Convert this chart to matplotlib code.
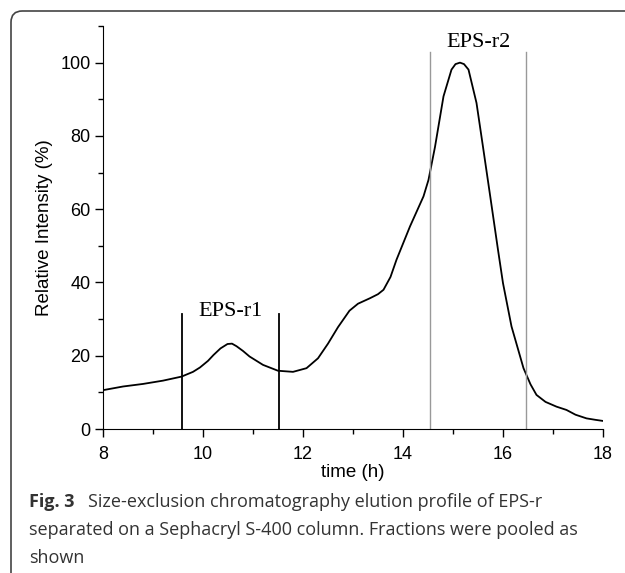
import matplotlib.pyplot as plt
from matplotlib.patches import FancyBboxPatch
from matplotlib.ticker import MultipleLocator

# elution profile
time_h = [8.0, 8.4, 8.8, 9.2, 9.57, 9.8, 9.94, 10.1, 10.21, 10.35, 10.49, 10.58, 10.67, 10.8,
          10.93, 11.2, 11.5, 11.8, 12.07, 12.3, 12.5, 12.7, 12.93, 13.1, 13.34, 13.5, 13.61,
          13.75, 13.87, 14.14, 14.41, 14.51, 14.64, 14.81, 14.97, 15.05, 15.14, 15.22, 15.31,
          15.47, 15.6, 15.75, 15.9, 16.0, 16.17, 16.41, 16.55, 16.67, 16.85, 17.07, 17.27,
          17.45, 17.67, 17.85, 18.0]
intensity = [10.6, 11.6, 12.3, 13.2, 14.3, 15.6, 16.8, 18.6, 20.2, 22.0, 23.2, 23.3, 22.6, 21.3,
             19.8, 17.5, 15.9, 15.6, 16.6, 19.3, 23.3, 27.8, 32.3, 34.2, 35.7, 36.8, 38.0,
             41.5, 46.2, 55.3, 63.5, 68.0, 77.0, 90.8, 98.1, 99.6, 100.0, 99.6, 98.1,
             89.0, 77.0, 63.0, 48.9, 39.8, 28.0, 16.6, 12.2, 9.3, 7.4, 6.1, 5.2,
             3.9, 2.9, 2.5, 2.2]

r1_lines = [9.58, 11.52]
r2_lines = [14.53, 16.45]

fig = plt.figure(figsize=(6.25, 5.73), dpi=100)

# rounded frame, only the top-left corner is inside the picture
frame = FancyBboxPatch((11 / 625, -0.2), 1.2, 1.2 - 11 / 573,
                       boxstyle="round,pad=0,rounding_size=0.018",
                       transform=fig.transFigure, fill=False, edgecolor='#444444', lw=1.2,
                       mutation_aspect=625 / 573)
fig.patches.append(frame)

ax = fig.add_axes([103 / 625, 1 - 429 / 573, 500 / 625, 403 / 573])
ax.plot(time_h, intensity, color='black', lw=1.3, solid_joinstyle='round')
for x in r1_lines:
    ax.plot([x, x], [0, 31.5], color='black', lw=1.3)
for x in r2_lines:
    ax.plot([x, x], [0, 103], color='#999999', lw=1.0)

ax.text(10.55, 30.8, 'EPS-r1', family='Liberation Serif', fontsize=16, ha='center', va='baseline')
ax.text(15.5, 104.4, 'EPS-r2', family='Liberation Serif', fontsize=16, ha='center', va='baseline')

ax.set_xlim(8, 18)
ax.set_ylim(0, 110)
ax.xaxis.set_major_locator(MultipleLocator(2))
ax.xaxis.set_minor_locator(MultipleLocator(1))
ax.yaxis.set_major_locator(MultipleLocator(20))
ax.yaxis.set_minor_locator(MultipleLocator(10))
ax.spines['top'].set_visible(False)
ax.spines['right'].set_visible(False)
ax.tick_params(which='major', direction='out', length=6, width=1, labelsize=13)
ax.tick_params(axis='x', which='major', pad=6)
ax.tick_params(axis='y', which='major', pad=3)
ax.tick_params(which='minor', direction='out', length=3.5, width=1)
for lab in ax.get_xticklabels() + ax.get_yticklabels():
    lab.set_family('Liberation Sans')
ax.set_xlabel('time (h)', family='Liberation Sans', fontsize=13.5, labelpad=1)
ax.set_ylabel('Relative Intensity (%)', family='Liberation Sans', fontsize=13.5, labelpad=5)

cap_color = '#333333'
fig.text(29 / 625, 1 - 507 / 573, 'Fig. 3', fontsize=13, va='baseline', family='Open Sans',
         weight='bold', color=cap_color)
fig.text(88 / 625, 1 - 507 / 573, 'Size-exclusion chromatography elution profile of EPS-r',
         fontsize=13, va='baseline', family='Open Sans', color=cap_color)
fig.text(29 / 625, 1 - 535 / 573,
         'separated on a Sephacryl S-400 column. Fractions were pooled as',
         fontsize=13, va='baseline', family='Open Sans', color=cap_color)
fig.text(29 / 625, 1 - 563 / 573, 'shown', fontsize=13, va='baseline', family='Open Sans',
         color=cap_color)

fig.savefig('out.png', dpi=100)
